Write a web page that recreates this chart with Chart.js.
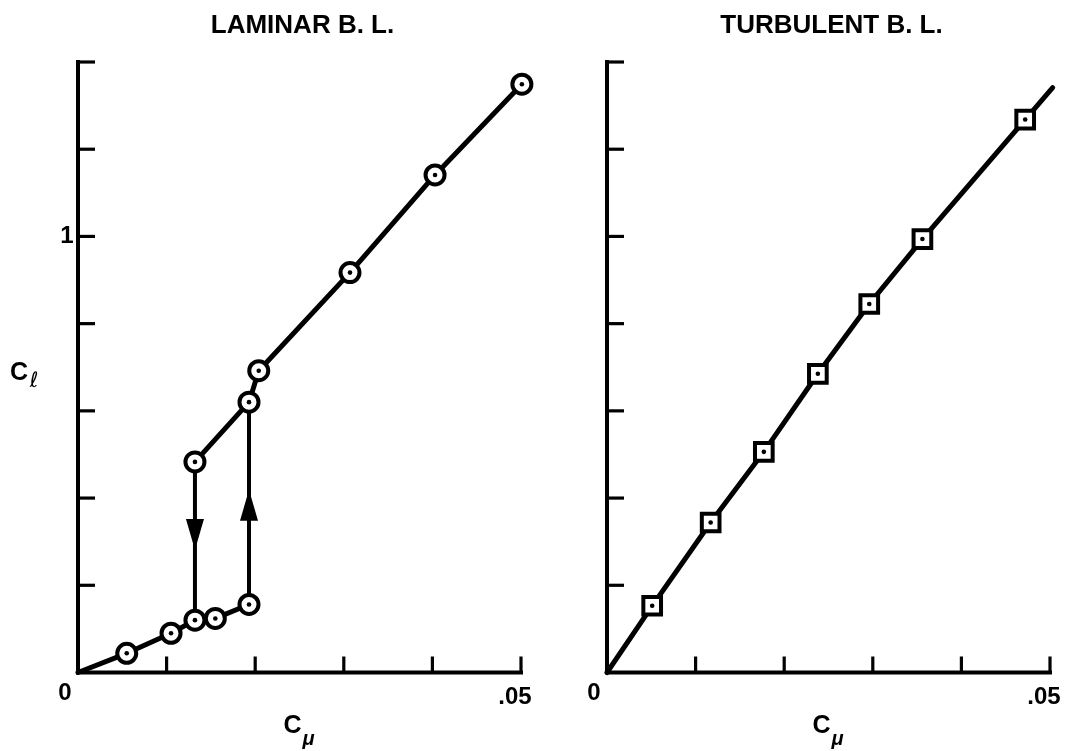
<!DOCTYPE html>
<html>
<head>
<meta charset="utf-8">
<script src="https://cdn.jsdelivr.net/npm/chart.js@4.4.1/dist/chart.umd.min.js"></script>
<style>
    html, body { margin: 0; padding: 0; background: #fff; }
    body { width: 1075px; height: 751px; position: relative; overflow: hidden; }
    .panel { position: absolute; top: 0; height: 751px; }
    #lam-wrap { left: 0; width: 540px; }
    #turb-wrap { left: 540px; width: 535px; }
</style>
</head>
<body>
<div class="panel" id="lam-wrap"><canvas id="lam-chart" width="540" height="751"></canvas></div>
<div class="panel" id="turb-wrap"><canvas id="turb-chart" width="535" height="751"></canvas></div>
<script>
// ==================== Data ====================

const xTicks = [0.01, 0.02, 0.03, 0.04, 0.05];
const yTicks = [0.2, 0.4, 0.6, 0.8, 1.0, 1.2, 1.4];

// laminar B.L. - lower (separated) branch and upper branch
const lamLowCmu  = [0.0055, 0.0105, 0.0132, 0.0155, 0.0193];
const lamLowCl   = [0.044, 0.090, 0.120, 0.124, 0.156];
const lamHighCmu = [0.0132, 0.0193, 0.0204, 0.0307, 0.0403, 0.0501];
const lamHighCl  = [0.483, 0.620, 0.692, 0.917, 1.141, 1.349];

// hysteresis jumps (vertical arrows)
const jumpCmu    = [0.0132, 0.0193];
const jumpFromCl = [0.483, 0.156];
const jumpToCl   = [0.120, 0.620];
const arrowTipCl = [0.281, 0.419];

// turbulent B.L.
const turbCmu = [0.0051, 0.0117, 0.0177, 0.0238, 0.0296, 0.0356, 0.0472];
const turbCl  = [0.153, 0.344, 0.506, 0.685, 0.845, 0.994, 1.268];
const turbEndCmu = 0.0503;
const turbEndCl  = 1.341;

// ==================== Helpers ====================

const FONT = '"Liberation Sans", Arial, Helvetica, sans-serif';
const pts = (xs, ys) => xs.map((x, i) => ({ x, y: ys[i] }));

function lineSet(data, width) {
    return {
        data, showLine: true, pointRadius: 0, pointHoverRadius: 0, clip: false,
        borderColor: '#000', borderWidth: width || 5,
        borderCapStyle: 'round', borderJoinStyle: 'round', fill: false, order: 5
    };
}

function markerSet(data, style, radius) {
    return {
        data, showLine: false, pointStyle: style, pointRadius: radius, clip: false,
        pointBackgroundColor: '#fff', pointBorderColor: '#000', pointBorderWidth: 4, order: 2
    };
}

function dotSet(data) {
    return {
        data, showLine: false, pointStyle: 'circle', pointRadius: 2.3, clip: false,
        pointBackgroundColor: '#000', pointBorderWidth: 0, order: 1
    };
}

// axes drawn the old way: ticks inward, only a few labels
const paperAxes = {
    id: 'paperAxes',
    beforeDatasetsDraw(chart, args, opts) {
        const { ctx, chartArea: a, scales: { x, y } } = chart;
        const x0 = x.getPixelForValue(0), y0 = y.getPixelForValue(0);
        ctx.save();
        ctx.strokeStyle = '#000';
        ctx.lineCap = 'square';
        ctx.lineWidth = 4;
        ctx.beginPath();
        ctx.moveTo(x0, y.getPixelForValue(1.4));
        ctx.lineTo(x0, y0);
        ctx.lineTo(x.getPixelForValue(0.05), y0);
        ctx.stroke();
        ctx.lineWidth = 3.2;
        ctx.lineCap = 'butt';
        yTicks.forEach(v => {
            const py = y.getPixelForValue(v);
            ctx.beginPath(); ctx.moveTo(x0, py); ctx.lineTo(x0 + 17, py); ctx.stroke();
        });
        xTicks.forEach(v => {
            const px = x.getPixelForValue(v);
            ctx.beginPath(); ctx.moveTo(px, y0); ctx.lineTo(px, y0 - 16); ctx.stroke();
        });

        ctx.fillStyle = '#000';
        ctx.textAlign = 'center';
        ctx.textBaseline = 'middle';
        const cx = (a.left + a.right) / 2;
        ctx.font = `bold 26px ${FONT}`;
        ctx.fillText(opts.title, cx + 3, 26);

        ctx.font = `bold 24px ${FONT}`;
        ctx.fillText('0', x0 - 13, y0 + 21);
        ctx.fillText('.05', x.getPixelForValue(0.05) - 6, y0 + 25);
        if (opts.yLabel) {
            ctx.fillText('1', x0 - 11, y.getPixelForValue(1));
            ctx.font = `bold 25px ${FONT}`;
            ctx.fillText('C', x0 - 59, (a.top + a.bottom) / 2 + 6);
            ctx.font = `italic 21px "DejaVu Sans", ${FONT}`;
            ctx.fillText('\u2113', x0 - 44, (a.top + a.bottom) / 2 + 14);
        }
        ctx.font = `bold 25px ${FONT}`;
        ctx.fillText('C', cx - 7, y0 + 54);
        ctx.font = `bold italic 20px ${FONT}`;
        ctx.fillText('\u03bc', cx + 9, y0 + 67);
        ctx.restore();
    },
    afterDatasetsDraw(chart, args, opts) {
        if (!opts.arrows) return;
        const { ctx, scales: { x, y } } = chart;
        ctx.save();
        ctx.fillStyle = '#000';
        jumpCmu.forEach((c, i) => {
            const px = x.getPixelForValue(c);
            const tip = y.getPixelForValue(arrowTipCl[i]);
            const dir = jumpToCl[i] > jumpFromCl[i] ? -1 : 1; // -1 = pointing up on screen
            const base = tip - dir * 31;
            ctx.beginPath();
            ctx.moveTo(px, tip);
            ctx.lineTo(px - 9, base);
            ctx.lineTo(px + 9, base);
            ctx.closePath();
            ctx.fill();
        });
        ctx.restore();
    }
};

function baseOptions(padding, title, extra) {
    return {
        responsive: false,
        animation: false,
        devicePixelRatio: 1,
        layout: { padding },
        events: [],
        scales: {
            x: { type: 'linear', min: 0, max: 0.05, display: false },
            y: { type: 'linear', min: 0, max: 1.4, display: false }
        },
        plugins: {
            legend: { display: false },
            tooltip: { enabled: false },
            paperAxes: Object.assign({ title }, extra)
        }
    };
}

// ==================== Charts ====================

const lamLow = pts(lamLowCmu, lamLowCl);
const lamHigh = pts(lamHighCmu, lamHighCl);
const lamAll = lamLow.concat(lamHigh);

new Chart(document.getElementById('lam-chart'), {
    type: 'scatter',
    data: {
        datasets: [
            lineSet([{ x: 0, y: 0 }].concat(lamLow)),
            lineSet(lamHigh),
            lineSet([{ x: jumpCmu[0], y: jumpFromCl[0] }, { x: jumpCmu[0], y: jumpToCl[0] }], 4),
            lineSet([{ x: jumpCmu[1], y: jumpFromCl[1] }, { x: jumpCmu[1], y: jumpToCl[1] }], 4),
            markerSet(lamAll, 'circle', 9.5),
            dotSet(lamAll)
        ]
    },
    options: baseOptions({ left: 78, right: 19, top: 62, bottom: 78.5 }, 'LAMINAR B. L.', { yLabel: true, arrows: true }),
    plugins: [paperAxes]
});

const turb = pts(turbCmu, turbCl);

new Chart(document.getElementById('turb-chart'), {
    type: 'scatter',
    data: {
        datasets: [
            lineSet([{ x: 0, y: 0 }].concat(turb, [{ x: turbEndCmu, y: turbEndCl }])),
            markerSet(turb, 'rect', 12.5),
            dotSet(turb)
        ]
    },
    options: baseOptions({ left: 67, right: 25, top: 62, bottom: 78.5 }, 'TURBULENT B. L.', {}),
    plugins: [paperAxes]
});
</script>
</body>
</html>
